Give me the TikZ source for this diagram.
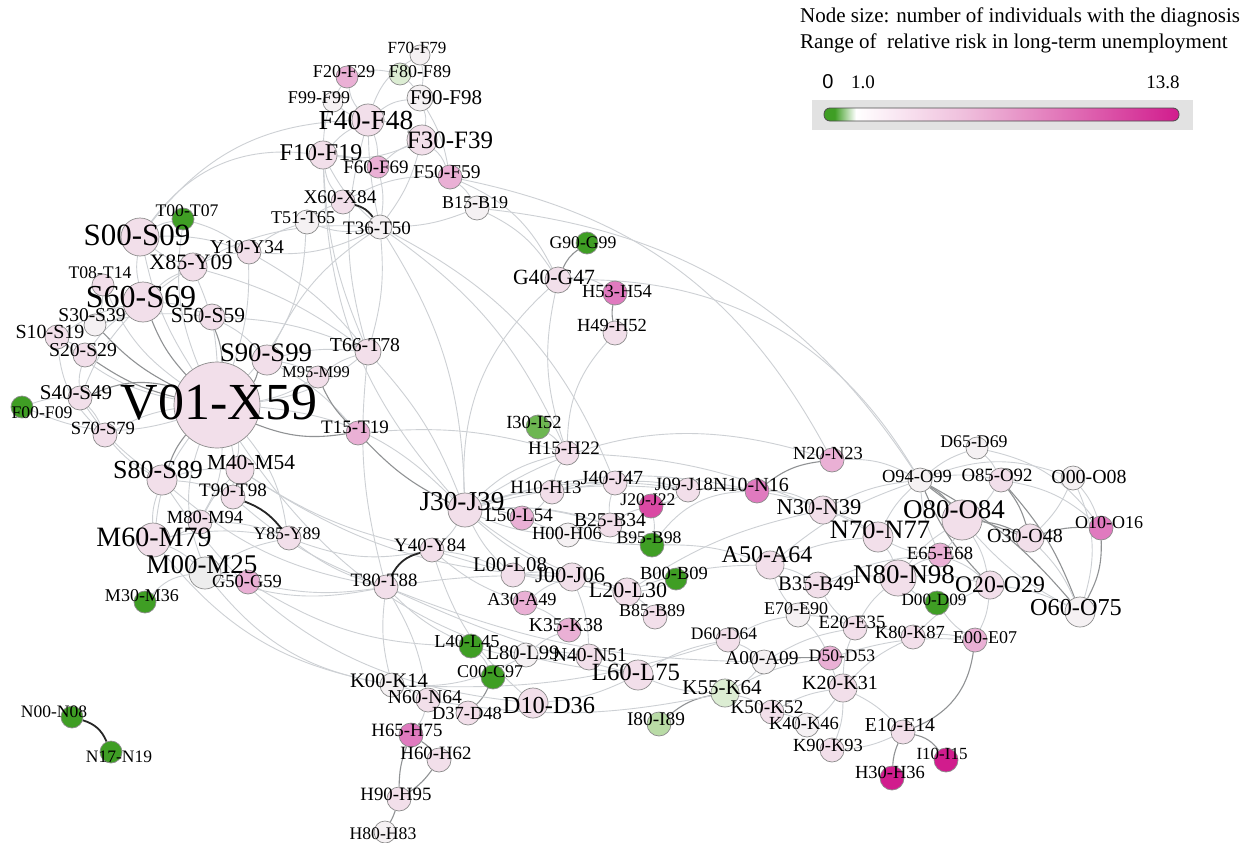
\documentclass[tikz,border=0pt]{standalone}
\usepackage{fontspec}
\setmainfont{Liberation Serif}
\newfontfamily\legsans{Liberation Sans}
\usetikzlibrary{backgrounds}

\definecolor{cG}{HTML}{3F9E24}
\definecolor{cGm}{HTML}{6DB651}
\definecolor{cGl}{HTML}{B9DBA6}
\definecolor{cGp}{HTML}{DCEDD3}
\definecolor{cW}{HTML}{F5F1F3}
\definecolor{cP}{HTML}{F2DFEA}
\definecolor{cPm}{HTML}{EAB0D5}
\definecolor{cPs}{HTML}{E07ABF}
\definecolor{cM}{HTML}{D11C8D}
\definecolor{ndb}{HTML}{8C8C8C}
\definecolor{edg}{HTML}{CDD0D4}
\definecolor{edd}{HTML}{909294}
\definecolor{boxgray}{HTML}{E2E2E2}
\definecolor{barpink}{HTML}{EFBEDC}

\pgfdeclarehorizontalshading{riskbar}{100bp}{color(0bp)=(cG); color(25bp)=(cG); color(26.5bp)=(cG); color(29.5bp)=(white); color(45bp)=(barpink); color(75bp)=(cM); color(100bp)=(cM)}

\begin{document}
\begin{tikzpicture}[x=1pt, y=-1pt,
    dx/.style={circle, draw=ndb, line width=0.7pt, inner sep=0pt, minimum size=2*#1},
    lb/.style={inner sep=0pt, font=\fontsize{#1}{#1}\selectfont},
    ed/.style={edg, line width=0.9pt},
    em/.style={edd, line width=1.1pt},
    ek/.style={black!85, line width=1.8pt}]
    \useasboundingbox (0,0) rectangle (1250,843);

    % circles
    \node[dx=10, fill=cW] (F70) at (420,55) {};
    \node[dx=11, fill=cPm] (F20) at (347,77) {};
    \node[dx=11, fill=cGp] (F80) at (400,74) {};
    \node[dx=10, fill=cW] (F99) at (333,102) {};
    \node[dx=13, fill=cW] (F90) at (420,98) {};
    \node[dx=16, fill=cP] (F40) at (368,120) {};
    \node[dx=15, fill=cP] (F30) at (422,140) {};
    \node[dx=14, fill=cP] (F10) at (323,155) {};
    \node[dx=11, fill=cPm] (F60) at (378,167) {};
    \node[dx=12, fill=cPm] (F50) at (450,177) {};
    \node[dx=12, fill=cP] (X60) at (343,202) {};
    \node[dx=12, fill=cW] (B15) at (477,208) {};
    \node[dx=12, fill=cW] (T36) at (380,227) {};
    \node[dx=12, fill=cW] (T51) at (307,222) {};
    \node[dx=11, fill=cG] (T00) at (183,219) {};
    \node[dx=19, fill=cP] (S00) at (140,237) {};
    \node[dx=12, fill=cP] (Y10) at (249,252) {};
    \node[dx=14, fill=cP] (X85) at (193,267) {};
    \node[dx=11, fill=cP] (T08) at (103,285) {};
    \node[dx=20, fill=cP] (S60) at (143,302) {};
    \node[dx=11, fill=cW] (S30) at (95,325) {};
    \node[dx=13, fill=cP] (S50) at (212,317) {};
    \node[dx=12, fill=cP] (S10) at (57,337) {};
    \node[dx=12, fill=cP] (S20) at (85,355) {};
    \node[dx=15, fill=cP] (S90) at (267,360) {};
    \node[dx=11, fill=cP] (M95) at (318,377) {};
    \node[dx=13, fill=cP] (T66) at (368,352) {};
    \node[dx=12, fill=cP] (S40) at (80,398) {};
    \node[dx=11, fill=cG] (F00) at (22,407) {};
    \node[dx=12, fill=cP] (S70) at (105,435) {};
    \node[dx=43, fill=cP] (V01) at (217,405) {};
    \node[dx=12, fill=cPm] (T15) at (358,433) {};
    \node[dx=15, fill=cP] (S80) at (162,480) {};
    \node[dx=14, fill=cP] (M40) at (240,470) {};
    \node[dx=12, fill=cP] (T90) at (233,497) {};
    \node[dx=12, fill=cP] (M80) at (200,522) {};
    \node[dx=17, fill=cP] (M60) at (153,540) {};
    \node[dx=12, fill=cP] (Y85) at (289,538) {};
    \node[dx=16, fill=black!7] (M00) at (205,573) {};
    \node[dx=12, fill=cPm] (G50) at (248,582) {};
    \node[dx=11, fill=cG] (M30) at (145,602) {};
    \node[dx=11, fill=cG] (N00) at (72,717) {};
    \node[dx=11, fill=cG] (N17) at (111,752) {};
    \node[dx=11, fill=cG] (G90) at (587,243) {};
    \node[dx=13, fill=cP] (G40) at (558,280) {};
    \node[dx=12, fill=cPs] (H53) at (615,293) {};
    \node[dx=12, fill=cP] (H49) at (615,333) {};
    \node[dx=12, fill=cGm] (I30) at (538,427) {};
    \node[dx=12, fill=cP] (H15) at (567,453) {};
    \node[dx=17, fill=cP] (J30) at (465,510) {};
    \node[dx=12, fill=cP] (H10) at (552,492) {};
    \node[dx=12, fill=cP] (J40) at (615,483) {};
    \node[dx=12, fill=cPm] (L50) at (522,518) {};
    \node[dx=12, fill=cW] (H00) at (568,535) {};
    \node[dx=12, fill=cP] (B25) at (610,525) {};
    \node[dx=12, fill=cP] (J09) at (688,490) {};
    \node[dx=12, fill=cM!80] (J20) at (651,506) {};
    \node[dx=12, fill=cPs] (N10) at (757,491) {};
    \node[dx=12, fill=cPm] (N20) at (832,460) {};
    \node[dx=14, fill=cP] (N30) at (823,510) {};
    \node[dx=15, fill=cP] (N70) at (878,537) {};
    \node[dx=12, fill=cG] (B95) at (652,545) {};
    \node[dx=12, fill=cP] (Y40) at (432,550) {};
    \node[dx=12, fill=cP] (L00) at (513,575) {};
    \node[dx=14, fill=cP] (J00) at (572,577) {};
    \node[dx=14, fill=cP] (L20) at (627,592) {};
    \node[dx=11, fill=cG] (B00) at (676,579) {};
    \node[dx=14, fill=cP] (A50) at (770,565) {};
    \node[dx=13, fill=cP] (B35) at (818,585) {};
    \node[dx=18, fill=cP] (N80) at (898,578) {};
    \node[dx=12, fill=cW] (O94) at (920,480) {};
    \node[dx=11, fill=cW] (D65) at (977,448) {};
    \node[dx=12, fill=cP] (O85) at (1001,480) {};
    \node[dx=12, fill=cW] (O00) at (1073,478) {};
    \node[dx=20, fill=cP] (O80) at (962,520) {};
    \node[dx=14, fill=cP] (O30) at (1030,538) {};
    \node[dx=12, fill=cPs] (O10) at (1101,528) {};
    \node[dx=12, fill=cPm] (E65) at (940,555) {};
    \node[dx=14, fill=cP] (O20) at (990,585) {};
    \node[dx=12, fill=cG] (D00) at (937,603) {};
    \node[dx=15, fill=cW] (O60) at (1080,612) {};
    \node[dx=12, fill=cPm] (E00) at (975,640) {};
    \node[dx=12, fill=cP] (K80) at (913,637) {};
    \node[dx=12, fill=cP] (E20) at (855,628) {};
    \node[dx=12, fill=cW] (E70) at (798,615) {};
    \node[dx=12, fill=cP] (B85) at (655,617) {};
    \node[dx=12, fill=cP] (T80) at (386,587) {};
    \node[dx=12, fill=cPm] (A30) at (525,603) {};
    \node[dx=12, fill=cPm] (K35) at (569,630) {};
    \node[dx=12, fill=cG] (L40) at (471,646) {};
    \node[dx=12, fill=cW] (L80) at (526,655) {};
    \node[dx=13, fill=cP] (N40) at (589,657) {};
    \node[dx=15, fill=cP] (L60) at (638,675) {};
    \node[dx=12, fill=cG] (C00) at (493,677) {};
    \node[dx=12, fill=cP] (D60) at (728,640) {};
    \node[dx=12, fill=cW] (A00) at (764,662) {};
    \node[dx=12, fill=cPm] (D50) at (830,658) {};
    \node[dx=14, fill=cGp] (K55) at (725,693) {};
    \node[dx=12, fill=cP] (K50) at (772,712) {};
    \node[dx=14, fill=cP] (K20) at (843,688) {};
    \node[dx=12, fill=cW] (K40) at (807,725) {};
    \node[dx=12, fill=cW] (K00) at (392,685) {};
    \node[dx=12, fill=cP] (N60) at (428,700) {};
    \node[dx=12, fill=cP] (D37) at (468,713) {};
    \node[dx=15, fill=cP] (D10) at (533,703) {};
    \node[dx=12, fill=cGl] (I80) at (659,724) {};
    \node[dx=12, fill=cP] (K90) at (832,750) {};
    \node[dx=12, fill=cP] (E10) at (903,732) {};
    \node[dx=12, fill=cM] (I10) at (946,760) {};
    \node[dx=12, fill=cM] (H30) at (892,778) {};
    \node[dx=12, fill=cPs] (H65) at (411,735) {};
    \node[dx=12, fill=cP] (H60) at (439,760) {};
    \node[dx=12, fill=cP] (H90) at (399,799) {};
    \node[dx=11, fill=cW] (H80) at (385,832) {};

    % connections
    \begin{scope}[on background layer]
    \fill[white] (0,0) rectangle (1250,843);
    \draw[ed] (F40) to[bend left=15] (F30);
    \draw[ed] (F40) to[bend right=10] (F10);
    \draw[ed] (F40) to[bend left=15] (F20);
    \draw[ed] (F40) to[bend left=10] (F60);
    \draw[ed] (F40) to[bend left=15] (F90);
    \draw[ed] (F40) to[bend left=10] (F99);
    \draw[ed] (F40) to[bend left=20] (F70);
    \draw[ed] (F30) to[bend right=15] (F90);
    \draw[ed] (F30) to[bend left=15] (F50);
    \draw[ed] (F30) to[bend right=10] (F60);
    \draw[ed] (F30) to[bend left=15] (F10);
    \draw[ed] (F10) to[bend left=10] (F60);
    \draw[ed] (F10) to[bend right=15] (X60);
    \draw[ed] (F20) to[bend left=15] (F80);
    \draw[ed] (F80) to[bend left=10] (F90);
    \draw[ed] (F70) to[bend left=10] (F90);
    \draw[ed] (F20) to[bend right=15] (F10);
    \draw[ed] (F60) to[bend left=10] (T36);
    \draw[ed] (F40) to[bend right=5] (T36);
    \draw[ed] (F30) to[bend left=10] (T36);
    \draw[ed] (F10) to[bend right=10] (T36);
    \draw[ed] (T36) to[bend right=10] (B15);
    \draw[ed] (T51) to[bend right=15] (T36);
    \draw[ed] (T51) to[bend left=10] (X60);
    \draw[ed] (Y10) to[bend right=15] (T36);
    \draw[ed] (Y10) to[bend left=10] (T51);
    \draw[ed] (F50) to[bend left=10] (B15);
    \draw[ed] (X60) to[bend left=15] (F50);
    \draw[ed] (F90) to[bend left=10] (F50);
    \draw[ed] (V01) to[bend left=10] (S00);
    \draw[em] (V01) to[bend left=10] (S60);
    \draw[em] (V01) to[bend right=10] (S90);
    \draw[ed] (V01) to[bend left=15] (S10);
    \draw[em] (V01) to[bend left=10] (S20);
    \draw[ed] (V01) to[bend right=10] (S70);
    \draw[em] (V01) to[bend right=10] (S80);
    \draw[ed] (V01) to[bend left=10] (M40);
    \draw[ed] (V01) to[bend right=10] (X85);
    \draw[ed] (V01) to[bend left=15] (T08);
    \draw[ed] (V01) to[bend right=10] (M95);
    \draw[ed] (V01) to[bend left=10] (T90);
    \draw[ed] (V01) to[bend left=20] (F00);
    \draw[ed] (V01) to[bend right=15] (T66);
    \draw[ed] (V01) to[bend right=10] (Y10);
    \draw[ed] (V01) to[bend left=15] (T00);
    \draw[ed] (V01) to[bend right=15] (M60);
    \draw[ed] (V01) to[bend left=15] (M80);
    \draw[ed] (V01) to[bend right=20] (M00);
    \draw[ed] (V01) to[bend left=15] (Y85);
    \draw[ed] (V01) to[bend left=20] (J30);
    \draw[ed] (V01) to[bend right=20] (T51);
    \draw[em] (V01) to[bend right=10] (S50);
    \draw[em] (V01) to[bend left=10] (S30);
    \draw[em] (V01) to[bend right=20] (S40);
    \draw[em] (V01) to[bend right=15] (T15);
    \draw[ed] (S00) to[bend left=10] (T00);
    \draw[ed] (S00) to[bend right=10] (S60);
    \draw[ed] (S00) to[bend right=10] (X85);
    \draw[ed] (S00) to[bend left=30] (F10);
    \draw[ed] (S00) to[bend left=25] (F40);
    \draw[ed] (S60) to[bend left=10] (S30);
    \draw[ed] (S60) to[bend left=10] (S50);
    \draw[ed] (S60) to[bend right=10] (S20);
    \draw[ed] (S60) to[bend right=10] (S10);
    \draw[ed] (S10) to[bend left=10] (S20);
    \draw[ed] (S40) to[bend left=10] (S70);
    \draw[ed] (S80) to[bend left=10] (M40);
    \draw[ed] (M40) to[bend left=10] (T90);
    \draw[ed] (M60) to[bend left=10] (M00);
    \draw[ed] (M80) to[bend left=10] (M60);
    \draw[ed] (M00) to[bend right=20] (M30);
    \draw[ed] (M00) to[bend left=10] (G50);
    \draw[ed] (M60) to[bend left=10] (Y85);
    \draw[ed] (M40) to[bend right=10] (M80);
    \draw[ed] (S50) to[bend left=10] (S90);
    \draw[ed] (S90) to[bend left=10] (M95);
    \draw[ed] (X85) to[bend left=10] (Y10);
    \draw[ed] (T00) to[bend left=10] (Y10);
    \draw[ed] (S90) to[bend left=15] (T36);
    \draw[ed] (S60) to[bend left=20] (T36);
    \draw[ed] (T66) to[bend right=10] (S90);
    \draw[ed] (S00) to[bend left=10] (Y10);
    \draw[ed] (S60) to[bend left=10] (X85);
    \draw[ed] (S60) to[bend right=10] (S40);
    \draw[ed] (S20) to[bend right=10] (S40);
    \draw[ed] (S30) to[bend left=10] (S50);
    \draw[ed] (S40) to[bend right=10] (S80);
    \draw[ed] (S70) to[bend right=10] (S80);
    \draw[ed] (S80) to[bend right=10] (M60);
    \draw[ed] (S80) to[bend left=10] (T90);
    \draw[ed] (M80) to[bend left=10] (Y85);
    \draw[ed] (M00) to[bend left=10] (Y85);
    \draw[ed] (T08) to[bend left=10] (S30);
    \draw[ed] (S10) to[bend right=20] (S70);
    \draw[ed] (F00) to[bend left=10] (S40);
    \draw[ed] (S90) to[bend left=10] (T15);
    \draw[ed] (M95) to[bend left=10] (T66);
    \draw[em] (M95) to[bend right=10] (T15);
    \draw[em] (T15) to[bend right=10] (J30);
    \draw[ed] (T66) to[bend left=10] (J30);
    \draw[ed] (T66) to[bend right=10] (T80);
    \draw[ed] (J30) to[bend left=10] (Y40);
    \draw[ed] (T80) to[bend right=10] (K00);
    \draw[ed] (T80) to[bend left=10] (N60);
    \draw[ed] (Y40) to[bend left=10] (L00);
    \draw[ed] (J30) to[bend left=10] (H10);
    \draw[ed] (J30) to[bend left=10] (L50);
    \draw[ed] (J30) to[bend left=15] (H15);
    \draw[ed] (H15) to[bend right=10] (H10);
    \draw[ed] (H10) to[bend left=10] (L50);
    \draw[ed] (H00) to[bend left=10] (B25);
    \draw[ed] (L00) to[bend left=10] (J00);
    \draw[ed] (J00) to[bend left=10] (L20);
    \draw[ed] (L20) to[bend left=10] (B85);
    \draw[ed] (J00) to[bend right=10] (A30);
    \draw[ed] (A30) to[bend left=10] (K35);
    \draw[ed] (K35) to[bend right=10] (L80);
    \draw[ed] (L80) to[bend left=10] (N40);
    \draw[ed] (N40) to[bend left=10] (L60);
    \draw[ed] (L60) to[bend left=10] (D10);
    \draw[em] (C00) to[bend left=10] (D37);
    \draw[ed] (L40) to[bend left=10] (C00);
    \draw[ed] (K00) to[bend left=10] (N60);
    \draw[ed] (N60) to[bend left=10] (H65);
    \draw[em] (H65) to[bend left=10] (H60);
    \draw[em] (H60) to[bend left=10] (H90);
    \draw[em] (H90) to[bend left=5] (H80);
    \draw[em] (H65) to[bend right=10] (H90);
    \draw[em] (G40) to[bend left=15] (G90);
    \draw[em] (H53) to[bend right=10] (H49);
    \draw[ed] (H49) to[bend right=20] (H15);
    \draw[ed] (I30) to[bend left=10] (H15);
    \draw[ed] (G40) to[bend right=25] (J30);
    \draw[ed] (J40) to[bend left=10] (J09);
    \draw[ed] (J09) to[bend left=10] (J20);
    \draw[ed] (J20) to[bend left=10] (B95);
    \draw[ed] (B95) to[bend left=25] (N10);
    \draw[em] (J09) to[bend left=5] (N10);
    \draw[em] (N10) to[bend left=15] (N20);
    \draw[ed] (N10) to[bend left=15] (N30);
    \draw[ed] (N30) to[bend left=10] (N70);
    \draw[ed] (N70) to[bend left=10] (O94);
    \draw[ed] (N70) to[bend left=10] (N80);
    \draw[ed] (A50) to[bend left=10] (B35);
    \draw[ed] (B35) to[bend left=10] (N80);
    \draw[ed] (N80) to[bend left=10] (E65);
    \draw[ed] (N80) to[bend left=10] (O80);
    \draw[ed] (E70) to[bend left=10] (E20);
    \draw[ed] (E20) to[bend left=10] (K80);
    \draw[ed] (K80) to[bend left=10] (E00);
    \draw[ed] (E00) to[bend left=10] (D00);
    \draw[ed] (E00) to[bend right=10] (O20);
    \draw[em] (E00) to[bend left=30] (E10);
    \draw[em] (E10) to[bend right=10] (H30);
    \draw[em] (E10) to[bend left=20] (I10);
    \draw[ed] (E10) to[bend right=10] (K20);
    \draw[ed] (K20) to[bend left=10] (D50);
    \draw[ed] (K20) to[bend left=10] (K40);
    \draw[ed] (K20) to[bend left=10] (K90);
    \draw[ed] (K50) to[bend left=10] (K40);
    \draw[ed] (K50) to[bend right=10] (K55);
    \draw[em] (K55) to[bend right=15] (I80);
    \draw[ed] (D60) to[bend left=10] (A00);
    \draw[em] (A00) to[bend left=5] (D50);
    \draw[ed] (A00) to[bend left=10] (K55);
    \draw[ed] (D50) to[bend right=10] (E70);
    \draw[ed] (B00) to[bend left=10] (L20);
    \draw[ed] (J30) to[bend left=25] (N20);
    \draw[ed] (J30) to[bend left=15] (B95);
    \draw[ed] (B25) to[bend left=10] (J40);
    \draw[ed] (L50) to[bend right=10] (B95);
    \draw[ed] (H10) to[bend left=10] (J40);
    \draw[ed] (J00) to[bend left=10] (N40);
    \draw[ed] (T80) to[bend right=10] (L40);
    \draw[ed] (Y40) to[bend right=15] (D10);
    \draw[ed] (L20) to[bend left=10] (A50);
    \draw[ed] (L60) to[bend right=10] (K55);
    \draw[ed] (D60) to[bend right=10] (L60);
    \draw[ed] (K50) to[bend left=10] (K20);
    \draw[ed] (K90) to[bend right=10] (E10);
    \draw[ed] (G50) to[bend right=10] (T80);
    \draw[ed] (G50) to[bend right=15] (L40);
    \draw[ed] (M00) to[bend right=15] (T80);
    \draw[ed] (M60) to[bend right=20] (K00);
    \draw[ed] (Y85) to[bend right=10] (T80);
    \draw[ed] (Y85) to[bend right=15] (Y40);
    \draw[ed] (M40) to[bend right=10] (Y40);
    \draw[ed] (T90) to[bend right=10] (T80);
    \draw[ed] (S80) to[bend right=15] (T80);
    \draw[ed] (T80) to[bend right=10] (A00);
    \draw[ed] (K00) to[bend right=10] (D60);
    \draw[ed] (T80) to[bend right=5] (L60);
    \draw[ed] (N60) to[bend right=10] (K55);
    \draw[ed] (K00) to[bend right=15] (L80);
    \draw[ed] (L40) to[bend right=10] (N40);
    \draw[ed] (T80) to[bend left=5] (J00);
    \draw[ed] (Y40) to[bend right=5] (L20);
    \draw[ed] (Y40) to[bend right=10] (A30);
    \draw[ed] (J30) to[bend left=10] (J40);
    \draw[ed] (J30) to[bend left=10] (B25);
    \draw[ed] (J30) to[bend right=10] (H00);
    \draw[ed] (J30) to[bend right=10] (L00);
    \draw[ed] (J30) to[bend right=10] (J00);
    \draw[ed] (J30) to[bend left=10] (J09);
    \draw[ed] (J30) to[bend left=15] (N10);
    \draw[ed] (J30) to[bend right=10] (L20);
    \draw[ed] (F10) to[bend right=10] (T66);
    \draw[ed] (F40) to[bend right=15] (T66);
    \draw[ed] (T36) to[bend left=10] (T66);
    \draw[ed] (T36) to[bend left=15] (J30);
    \draw[ed] (Y10) to[bend left=10] (T66);
    \draw[ed] (X85) to[bend left=10] (T66);
    \draw[ed] (S50) to[bend left=10] (T66);
    \draw[ed] (T36) to[bend left=15] (H15);
    \draw[ed] (B15) to[bend left=15] (G40);
    \draw[ed] (F50) to[bend left=20] (G40);
    \draw[ed] (G40) to[bend left=20] (H53);
    \draw[ed] (G40) to[bend right=15] (H15);
    \draw[ed] (H15) to[bend left=10] (N30);
    \draw[ed] (H10) to[bend left=10] (J09);
    \draw[ed] (B25) to[bend left=10] (J20);
    \draw[ed] (B95) to[bend left=10] (A50);
    \draw[ed] (L20) to[bend left=10] (N30);
    \draw[ed] (A50) to[bend left=10] (N70);
    \draw[ed] (A50) to[bend left=10] (O94);
    \draw[ed] (A50) to[bend right=10] (E70);
    \draw[ed] (B35) to[bend left=10] (E65);
    \draw[ed] (B35) to[bend right=10] (E20);
    \draw[ed] (A00) to[bend left=10] (E20);
    \draw[ed] (D60) to[bend left=10] (E70);
    \draw[ed] (K55) to[bend left=10] (D50);
    \draw[ed] (K20) to[bend left=10] (E20);
    \draw[ed] (K20) to[bend left=10] (K80);
    \draw[ed] (D50) to[bend left=10] (E00);
    \draw[ed] (K80) to[bend left=10] (O20);
    \draw[ed] (E65) to[bend left=10] (O20);
    \draw[ed] (E20) to[bend left=10] (N80);
    \draw[ed] (N30) to[bend left=10] (O94);
    \draw[ed] (N20) to[bend left=15] (O94);
    \draw[ed] (N10) to[bend left=10] (N70);
    \draw[em] (O94) to[bend left=10] (O80);
    \draw[ed] (O94) to[bend left=10] (O85);
    \draw[em] (O94) to[bend right=10] (O30);
    \draw[em] (O94) to[bend right=10] (O20);
    \draw[em] (O94) to[bend left=10] (O60);
    \draw[ed] (O85) to[bend left=10] (O80);
    \draw[em] (O85) to[bend left=10] (O30);
    \draw[em] (O85) to[bend left=10] (O60);
    \draw[ed] (O00) to[bend left=10] (O30);
    \draw[ed] (O00) to[bend left=10] (O10);
    \draw[ed] (O00) to[bend left=20] (O60);
    \draw[em] (O80) to[bend left=10] (O30);
    \draw[ed] (O80) to[bend left=10] (O20);
    \draw[ed] (O80) to[bend right=10] (O60);
    \draw[em] (O30) to[bend left=10] (O10);
    \draw[ed] (O30) to[bend left=10] (O60);
    \draw[em] (O10) to[bend left=15] (O60);
    \draw[ed] (O20) to[bend left=10] (O60);
    \draw[ed] (D65) to[bend right=10] (O94);
    \draw[ed] (D65) to[bend left=10] (O85);
    \draw[ed] (D65) to[bend left=20] (O10);
    \draw[ed] (O94) to[bend right=10] (E65);
    \draw[ed] (O80) to[bend left=10] (E65);
    \draw[ed] (N80) to[bend left=10] (O20);
    \draw[ed] (D00) to[bend left=10] (N80);
    \draw[ed] (E65) to[bend left=10] (N70);
    \draw[ed] (O94) to[bend left=20] (O00);
    \draw[ed] (O85) to[bend left=15] (O10);
    \draw[ed] (B15) to[bend left=25] (O94);
    \draw[ed] (F50) to[bend left=25] (N20);
    \draw[ed] (G40) to[bend left=30] (O94);
    \draw[ed] (T36) to[bend left=20] (J40);
    \draw[ed] (F10) to[bend right=20] (J30);
    \draw[ed] (V01) to[bend right=25] (L60);
    \draw[ed] (M40) to[bend right=15] (J00);
    \draw[ed] (S80) to[bend right=25] (D10);
    \draw[ed] (T15) to[bend left=10] (H15);
    \draw[ed] (M00) to[bend right=20] (K00);
    \draw[ek] (X60) to[bend left=20] (T36);
    \draw[ek] (T90) to[bend left=15] (Y85);
    \draw[ek] (Y40) to[bend right=25] (T80);
    \draw[ek] (N00) to[bend left=25] (N17);
    \end{scope}

    % labels
    \node[lb=17] (tF70) at (417,48) {F70-F79};
    \node[lb=18] (tF20) at (344,72) {F20-F29};
    \node[lb=18] (tF80) at (420,72) {F80-F89};
    \node[lb=18] (tF99) at (319,98) {F99-F99};
    \node[lb=21] (tF90) at (446,98) {F90-F98};
    \node[lb=27.5] (tF40) at (366,120) {F40-F48};
    \node[lb=25] (tF30) at (450,140) {F30-F39};
    \node[lb=24] (tF10) at (321,153) {F10-F19};
    \node[lb=19] (tF60) at (376,167) {F60-F69};
    \node[lb=19.5] (tF50) at (447,172) {F50-F59};
    \node[lb=19.3] (tX60) at (340,197) {X60-X84};
    \node[lb=18] (tB15) at (475,203) {B15-B19};
    \node[lb=19] (tT36) at (377,228) {T36-T50};
    \node[lb=18] (tT51) at (303,218) {T51-T65};
    \node[lb=17.7] (tT00) at (187,211) {T00-T07};
    \node[lb=31] (tS00) at (137,235) {S00-S09};
    \node[lb=19.5] (tY10) at (247,247) {Y10-Y34};
    \node[lb=22] (tX85) at (191,262) {X85-Y09};
    \node[lb=17.7] (tT08) at (100,273) {T08-T14};
    \node[lb=32] (tS60) at (141,297) {S60-S69};
    \node[lb=19.5] (tS30) at (92,315) {S30-S39};
    \node[lb=21.5] (tS50) at (208,315) {S50-S59};
    \node[lb=20] (tS10) at (50,332) {S10-S19};
    \node[lb=19.7] (tS20) at (83,350) {S20-S29};
    \node[lb=26.7] (tS90) at (266,353) {S90-S99};
    \node[lb=16.5] (tM95) at (316,372) {M95-M99};
    \node[lb=19.7] (tT66) at (365,345) {T66-T78};
    \node[lb=21] (tS40) at (76,393) {S40-S49};
    \node[lb=17.7] (tF00) at (42,413) {F00-F09};
    \node[lb=18.6] (tS70) at (103,428) {S70-S79};
    \node[lb=52] (tV01) at (219,403) {V01-X59};
    \node[lb=19] (tT15) at (355,427) {T15-T19};
    \node[lb=26] (tS80) at (158,470) {S80-S89};
    \node[lb=21.4] (tM40) at (251,462) {M40-M54};
    \node[lb=19] (tT90) at (233,490) {T90-T98};
    \node[lb=18.5] (tM80) at (205,517) {M80-M94};
    \node[lb=28] (tM60) at (154,537) {M60-M79};
    \node[lb=17.7] (tY85) at (287,534) {Y85-Y89};
    \node[lb=27] (tM00) at (202,565) {M00-M25};
    \node[lb=18.5] (tG50) at (247,581) {G50-G59};
    \node[lb=18] (tM30) at (142,596) {M30-M36};
    \node[lb=17.5] (tN00) at (54,712) {N00-N08};
    \node[lb=17.5] (tN17) at (119,757) {N17-N19};
    \node[lb=17.7] (tG90) at (583,243) {G90-G99};
    \node[lb=21.7] (tG40) at (554,277) {G40-G47};
    \node[lb=18.5] (tH53) at (617,291) {H53-H54};
    \node[lb=18.5] (tH49) at (612,325) {H49-H52};
    \node[lb=18.5] (tI30) at (534,422) {I30-I52};
    \node[lb=19] (tH15) at (564,448) {H15-H22};
    \node[lb=27.3] (tJ30) at (462,502) {J30-J39};
    \node[lb=18.8] (tH10) at (546,487) {H10-H13};
    \node[lb=20] (tJ40) at (612,478) {J40-J47};
    \node[lb=19] (tL50) at (519,515) {L50-L54};
    \node[lb=18.5] (tH00) at (567,533) {H00-H06};
    \node[lb=19.6] (tB25) at (610,520) {B25-B34};
    \node[lb=18.7] (tJ09) at (684,484) {J09-J18};
    \node[lb=17.7] (tJ20) at (648,500) {J20-J22};
    \node[lb=20] (tN10) at (751,485) {N10-N16};
    \node[lb=18.5] (tN20) at (828,453) {N20-N23};
    \node[lb=22.5] (tN30) at (819,507) {N30-N39};
    \node[lb=26.5] (tN70) at (880,530) {N70-N77};
    \node[lb=17.7] (tB95) at (649,538) {B95-B98};
    \node[lb=19] (tY40) at (430,545) {Y40-Y84};
    \node[lb=20.8] (tL00) at (510,565) {L00-L08};
    \node[lb=22.5] (tJ00) at (570,575) {J00-J06};
    \node[lb=22] (tL20) at (628,590) {L20-L30};
    \node[lb=18.5] (tB00) at (674,573) {B00-B09};
    \node[lb=24] (tA50) at (767,555) {A50-A64};
    \node[lb=20.7] (tB35) at (816,584) {B35-B49};
    \node[lb=27] (tN80) at (904,575) {N80-N98};
    \node[lb=18.5] (tO94) at (917,476) {O94-O99};
    \node[lb=17.8] (tD65) at (974,442) {D65-D69};
    \node[lb=18.8] (tO85) at (997,475) {O85-O92};
    \node[lb=19.9] (tO00) at (1089,477) {O00-O08};
    \node[lb=27] (tO80) at (954,510) {O80-O84};
    \node[lb=20] (tO30) at (1025,536) {O30-O48};
    \node[lb=18] (tO10) at (1109,523) {O10-O16};
    \node[lb=18.6] (tE65) at (940,553) {E65-E68};
    \node[lb=23.8] (tO20) at (1000,585) {O20-O29};
    \node[lb=17.2] (tD00) at (934,600) {D00-D09};
    \node[lb=24.3] (tO60) at (1076,608) {O60-O75};
    \node[lb=18] (tE00) at (985,638) {E00-E07};
    \node[lb=18.5] (tK80) at (910,632) {K80-K87};
    \node[lb=18.8] (tE20) at (852,622) {E20-E35};
    \node[lb=18] (tE70) at (796,609) {E70-E90};
    \node[lb=18] (tB85) at (652,611) {B85-B89};
    \node[lb=18.8] (tT80) at (384,580) {T80-T88};
    \node[lb=18.3] (tA30) at (522,599) {A30-A49};
    \node[lb=19.6] (tK35) at (566,625) {K35-K38};
    \node[lb=18.3] (tL40) at (467,641) {L40-L45};
    \node[lb=20.5] (tL80) at (523,653) {L80-L99};
    \node[lb=19.6] (tN40) at (590,655) {N40-N51};
    \node[lb=24.8] (tL60) at (636,672) {L60-L75};
    \node[lb=18] (tC00) at (490,672) {C00-C97};
    \node[lb=17.5] (tD60) at (724,634) {D60-D64};
    \node[lb=19.4] (tA00) at (762,658) {A00-A09};
    \node[lb=17.5] (tD50) at (842,656) {D50-D53};
    \node[lb=21] (tK55) at (722,688) {K55-K64};
    \node[lb=19.3] (tK50) at (767,707) {K50-K52};
    \node[lb=20] (tK20) at (840,683) {K20-K31};
    \node[lb=18.5] (tK40) at (804,723) {K40-K46};
    \node[lb=20.6] (tK00) at (389,681) {K00-K14};
    \node[lb=19.6] (tN60) at (425,697) {N60-N64};
    \node[lb=18.5] (tD37) at (467,713) {D37-D48};
    \node[lb=24.4] (tD10) at (549,705) {D10-D36};
    \node[lb=19.3] (tI80) at (656,719) {I80-I89};
    \node[lb=18.5] (tK90) at (828,745) {K90-K93};
    \node[lb=19.7] (tE10) at (900,725) {E10-E14};
    \node[lb=17] (tI10) at (942,754) {I10-I15};
    \node[lb=18.5] (tH30) at (890,772) {H30-H36};
    \node[lb=18.8] (tH65) at (407,730) {H65-H75};
    \node[lb=18.8] (tH60) at (436,753) {H60-H62};
    \node[lb=18.8] (tH90) at (396,794) {H90-H95};
    \node[lb=17.7] (tH80) at (383,834) {H80-H83};

    % legend
    \node[lb=21, anchor=west] (leg1) at (800,17) {Node size: number of individuals with the diagnosis};
    \node[lb=21, anchor=west] (leg2) at (800,43) {Range of \ relative risk in long-term unemployment};
    \node[lb=20] (leg0) at (828,82) {\legsans 0};
    \node[lb=19] (legmid) at (863,82) {1.0};
    \node[lb=19] (legmax) at (1163,82) {13.8};
    \fill[boxgray] (812,100) rectangle (1193,130);
    \shade[shading=riskbar, rounded corners=6pt] (824,108) rectangle (1179,121);
    \draw[black!70, line width=0.8pt, rounded corners=6pt] (824,108) rectangle (1179,121);
\end{tikzpicture}
\end{document}
